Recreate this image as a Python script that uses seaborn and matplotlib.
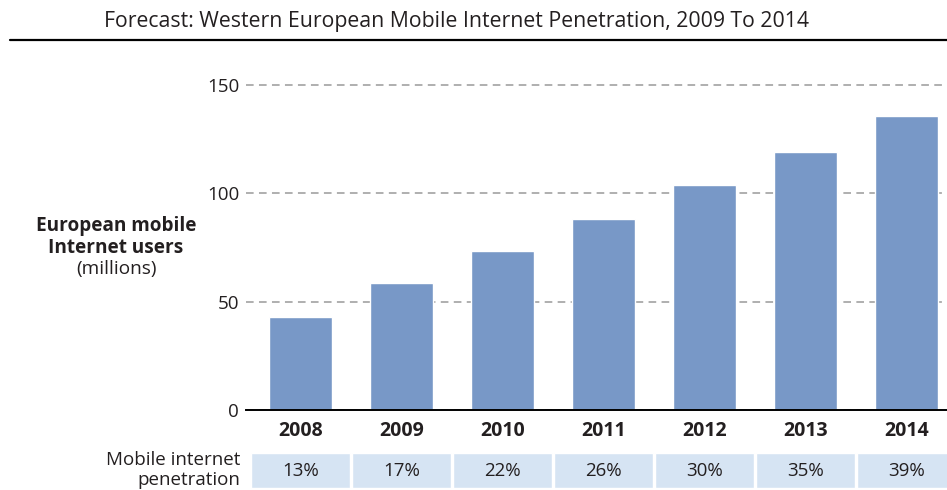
import matplotlib
matplotlib.use("Agg")
import matplotlib.pyplot as plt
from matplotlib.lines import Line2D
import seaborn as sns
import pandas as pd

# ── Data ─────────────────────────────────────────────────────────────────────
years = ["2008", "2009", "2010", "2011", "2012", "2013", "2014"]
users_millions = [42.8, 58.5, 73.4, 88.3, 104.0, 118.9, 135.4]
penetration = ["13%", "17%", "22%", "26%", "30%", "35%", "39%"]
y_ticks = [0, 50, 100, 150]

subtitle = "Forecast: Western European Mobile Internet Penetration, 2009 To 2014"

# ── Setup ────────────────────────────────────────────────────────────────────
sns.set_theme(style="white")
plt.rcParams["font.family"] = ["Open Sans", "DejaVu Sans"]

BAR = "#7898C7"
CELL = "#D6E4F3"
TXT = "#231F20"
W, H = 947, 490

df = pd.DataFrame({"year": years, "users": users_millions})

fig = plt.figure(figsize=(W / 100, H / 100), dpi=100)

# main bar axes: left edge 246px, zero line at 410px, top at 74px
ax = fig.add_axes([246 / W, 80 / H, 1 - 246 / W, 336 / H])
sns.barplot(data=df, x="year", y="users", color=BAR, saturation=1,
            width=0.62, ax=ax, zorder=3)
ax.set_xlim(-0.54, 6.40)
ax.set_ylim(0, 155)
ax.set_yticks(y_ticks)
ax.set_xlabel("")
ax.set_ylabel("")
for s in ["top", "right", "left"]:
    ax.spines[s].set_visible(False)
ax.spines["bottom"].set_color("black")
ax.spines["bottom"].set_linewidth(1.4)
ax.spines["bottom"].set_zorder(4)
ax.yaxis.grid(True, color="#9A9A9A", linestyle=(0, (5, 3.5)), linewidth=1.1)
ax.xaxis.grid(False)
ax.set_axisbelow(True)
ax.tick_params(axis="y", length=0, pad=5, labelsize=13.5, labelcolor=TXT)
ax.tick_params(axis="x", length=0, pad=8, labelsize=14, labelcolor=TXT)
for lab in ax.get_xticklabels():
    lab.set_fontweight("bold")

# penetration row
ax2 = fig.add_axes([246 / W, 2 / H, 1 - 246 / W, 35 / H], sharex=ax)
ax2.bar(range(len(years)), [1] * len(years), width=0.975, color=CELL)
ax2.set_ylim(0, 1)
ax2.axis("off")
for i, p in enumerate(penetration):
    ax2.text(i, 0.5, p, ha="center", va="center", fontsize=13.5, color=TXT)
ax.set_xlim(-0.54, 6.40)

fig.text(240 / W, 1 - 460 / H, "Mobile internet", ha="right", va="center",
         fontsize=13.5, color=TXT)
fig.text(240 / W, 1 - 480 / H, "penetration", ha="right", va="center",
         fontsize=13.5, color=TXT)

# y axis title
fig.text(116 / W, 1 - 226 / H, "European mobile", ha="center", va="center",
         fontsize=13.7, fontweight="bold", color=TXT)
fig.text(116 / W, 1 - 248 / H, "Internet users", ha="center", va="center",
         fontsize=13.7, fontweight="bold", color=TXT)
fig.text(116 / W, 1 - 269 / H, "(millions)", ha="center", va="center",
         fontsize=13.7, color=TXT)

# header
fig.text(456 / W, 1 - 21 / H, subtitle, ha="center", va="center",
         fontsize=15.3, color=TXT)
fig.add_artist(Line2D([10 / W, 1], [1 - 40 / H, 1 - 40 / H], color="black",
                      linewidth=1.6))

fig.savefig("out.png", dpi=100)
